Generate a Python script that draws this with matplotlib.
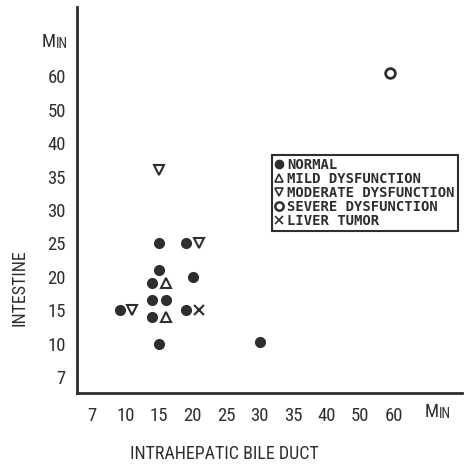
import numpy as np
import matplotlib
matplotlib.use("Agg")
import matplotlib.pyplot as plt
from matplotlib.scale import FuncScale
from matplotlib.lines import Line2D
import matplotlib.transforms as mtransforms
from matplotlib import font_manager

# Tick values (evenly spaced on the chart regardless of numeric gap)
tick_values = [7, 10, 15, 20, 25, 30, 35, 40, 50, 60]
tick_labels = ["7", "10", "15", "20", "25", "30", "35", "40", "50", "60"]

# Groups: (bile duct minutes, intestine minutes)
normal_x = [15, 19, 15, 20, 14, 9.5, 14, 16, 14, 19, 15, 30]
normal_y = [25, 25, 21, 20, 19, 15, 16.5, 16.5, 14, 15, 10, 10.2]
mild_x = [16, 16]
mild_y = [19, 14]
moderate_x = [21, 11, 15]
moderate_y = [25, 15, 36]
severe_x = [59]
severe_y = [61]
tumor_x = [21]
tumor_y = [15]

group_names = ["NORMAL", "MILD DYSFUNCTION", "MODERATE DYSFUNCTION",
               "SEVERE DYSFUNCTION", "LIVER TUMOR"]

INK = "#2e2e2e"
idx = np.arange(len(tick_values), dtype=float)
tv = np.array(tick_values, dtype=float)


def fwd(v):
    v = np.asarray(v, dtype=float)
    out = np.interp(v, tv, idx)
    out = np.where(v < tv[0], (v - tv[0]) / (tv[1] - tv[0]), out)
    out = np.where(v > tv[-1], idx[-1] + (v - tv[-1]) / (tv[-1] - tv[-2]), out)
    return out


def inv(p):
    p = np.asarray(p, dtype=float)
    out = np.interp(p, idx, tv)
    out = np.where(p < 0, tv[0] + p * (tv[1] - tv[0]), out)
    out = np.where(p > idx[-1], tv[-1] + (p - idx[-1]) * (tv[-1] - tv[-2]), out)
    return out


# narrow sans for the axis text
names = {f.name for f in font_manager.fontManager.ttflist}
narrow = None
for cand in ["DejaVu Sans Condensed", "Liberation Sans Narrow", "Roboto Condensed",
             "Open Sans Condensed"]:
    if cand in names:
        narrow = cand
        break
if narrow is None:
    lab_font = dict(family="DejaVu Sans", stretch="condensed")
else:
    lab_font = dict(family=narrow)

fig = plt.figure(figsize=(4.65, 4.65), dpi=100)
ax = fig.add_axes([77 / 465, 72 / 465, 385 / 465, 386 / 465])
ax.set_xscale(FuncScale(ax.xaxis, (fwd, inv)))
ax.set_yscale(FuncScale(ax.yaxis, (fwd, inv)))
ax.set_xlim(inv(-0.45), inv(11.04))
ax.set_ylim(inv(-0.48), inv(11.08))

for s in ["top", "right"]:
    ax.spines[s].set_visible(False)
for s in ["left", "bottom"]:
    ax.spines[s].set_linewidth(2.0)
    ax.spines[s].set_color(INK)

ax.set_xticks(tick_values)
ax.set_xticklabels(tick_labels, color=INK, size=13.5, **lab_font)
ax.set_yticks(tick_values)
ax.set_yticklabels(tick_labels, color=INK, size=13.5, **lab_font)
ax.tick_params(axis="both", length=0)
ax.tick_params(axis="x", pad=10)
ax.tick_params(axis="y", pad=8)
ax.xaxis.set_minor_locator(matplotlib.ticker.NullLocator())
ax.yaxis.set_minor_locator(matplotlib.ticker.NullLocator())

# "MIN" unit marks at the far end of each axis
ty = mtransforms.blended_transform_factory(ax.transAxes, ax.transData)
ax.text(-0.055, 70.3, "M", transform=ty, ha="right", va="center", size=13.5, color=INK, **lab_font)
ax.text(-0.055, 69.6, "IN", transform=ty, ha="left", va="center", size=10, color=INK, **lab_font)
tx = mtransforms.blended_transform_factory(ax.transData, ax.transAxes)
ax.text(inv(10.35), -0.027, "M", transform=tx, ha="right", va="top", size=13.5, color=INK, **lab_font)
ax.text(inv(10.35), -0.035, "IN", transform=tx, ha="left", va="top", size=10, color=INK, **lab_font)

ax.set_ylabel("INTESTINE", color=INK, size=13, **lab_font)
ax.yaxis.set_label_coords(-0.125, 0.272)
ax.set_xlabel("INTRAHEPATIC BILE DUCT", color=INK, size=13, **lab_font)
ax.xaxis.set_label_coords(0.384, -0.135)

ms = 7
ax.plot(normal_x, normal_y, "o", color=INK, ms=ms, mec=INK, ls="none")
ax.plot(mild_x, mild_y, "^", mfc="none", mec=INK, ms=ms, mew=1.5, ls="none")
ax.plot(moderate_x, moderate_y, "v", mfc="none", mec=INK, ms=ms, mew=1.5, ls="none")
ax.plot(severe_x, severe_y, "o", mfc="none", mec=INK, ms=ms, mew=2.0, ls="none")
ax.plot(tumor_x, tumor_y, "x", color=INK, ms=ms, mew=1.5, ls="none")

handles = [
    Line2D([], [], marker="o", ls="none", color=INK, ms=6),
    Line2D([], [], marker="^", ls="none", mfc="none", mec=INK, ms=6, mew=1.2),
    Line2D([], [], marker="v", ls="none", mfc="none", mec=INK, ms=6, mew=1.2),
    Line2D([], [], marker="o", ls="none", mfc="none", mec=INK, ms=6, mew=1.8),
    Line2D([], [], marker="x", ls="none", color=INK, ms=6, mew=1.2),
]
leg = ax.legend(handles, group_names, loc="upper left",
                bbox_to_anchor=(272 / 465, 1 - 155 / 465), bbox_transform=fig.transFigure,
                prop=dict(family="DejaVu Sans Mono", weight="bold", size=10),
                frameon=True, fancybox=False, handlelength=0.6, handletextpad=0.3,
                labelspacing=0.0, borderpad=0.2, borderaxespad=0, framealpha=1)
leg.get_frame().set_edgecolor(INK)
leg.get_frame().set_linewidth(1.5)
for t in leg.get_texts():
    t.set_color(INK)

fig.savefig("out.png", dpi=100, facecolor="white")
